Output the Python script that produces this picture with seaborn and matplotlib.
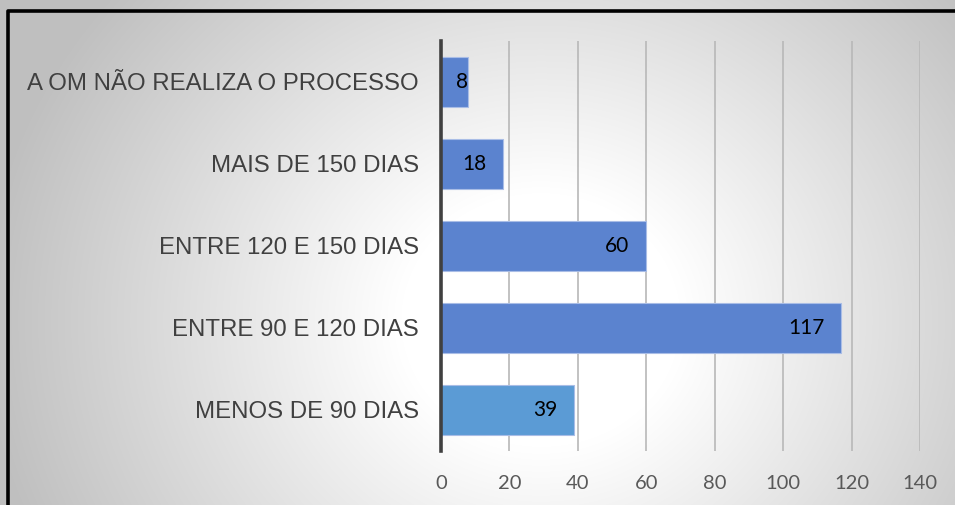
import numpy as np
import pandas as pd
import matplotlib
matplotlib.use("Agg")
import matplotlib.pyplot as plt
import seaborn as sns

categories = [
    "A OM NÃO REALIZA O PROCESSO",
    "MAIS DE 150 DIAS",
    "ENTRE 120 E 150 DIAS",
    "ENTRE 90 E 120 DIAS",
    "MENOS DE 90 DIAS",
]
values = [8, 18, 60, 117, 39]
bar_colors = ["#5B83CF", "#5B83CF", "#5B83CF", "#5B83CF", "#5B9BD5"]
x_ticks = [0, 20, 40, 60, 80, 100, 120, 140]

df = pd.DataFrame({"categoria": categories, "valor": values})

sns.set_theme(style="white")
plt.rcParams["font.family"] = ["Liberation Sans", "DejaVu Sans"]

W, H, DPI = 955, 505, 100
fig = plt.figure(figsize=(W / DPI, H / DPI), dpi=DPI)

# radial background gradient: white in the middle, grey towards the corners
bg = fig.add_axes([0, 0, 1, 1], zorder=-10)
yy, xx = np.mgrid[0:H, 0:W]
d = np.hypot(xx - 540, (yy - 320) * 1.1)
t = np.clip((d - 140) / 420, 0, 1)
shade = 1.0 - 0.25 * t
bg.imshow(np.dstack([shade] * 3), extent=[0, W, H, 0], aspect="auto")
bg.set_xlim(0, W)
bg.set_ylim(H, 0)
bg.axis("off")
# dark frame on the left and top edges
bg.plot([8, 8, W + 5], [H + 5, 11, 11], color="black", lw=2.6, solid_capstyle="butt")

ax = fig.add_axes([441 / W, 54 / H, 479 / W, 410 / H])
ax.set_facecolor("none")

sns.barplot(
    data=df, x="valor", y="categoria", hue="categoria",
    palette=bar_colors, saturation=1, legend=False, orient="h", width=0.6,
    edgecolor="#a9bde6", linewidth=0.8, ax=ax, zorder=3,
)

ax.set_xlim(0, 140)
ax.set_xticks(x_ticks)
ax.set_xlabel("")
ax.set_ylabel("")
ax.grid(axis="x", color="#b8b8b8", lw=1.2, zorder=0)
ax.grid(axis="y", visible=False)
for s in ["top", "right", "bottom"]:
    ax.spines[s].set_visible(False)
ax.spines["left"].set_color("#404040")
ax.spines["left"].set_linewidth(2.6)
ax.spines["left"].set_zorder(5)

ax.tick_params(axis="x", length=0, pad=17, labelsize=14.5, labelcolor="#595959")
ax.tick_params(axis="y", length=0, pad=16, labelsize=17.3, labelcolor="#404040")
for lbl in ax.get_xticklabels():
    lbl.set_fontfamily(["Lato", "DejaVu Sans"])
for lbl in ax.get_yticklabels():
    lbl.set_fontfamily(["Liberation Sans", "DejaVu Sans"])

# value labels inside the end of each bar
px_per_unit = 479 / 140
for i, v in enumerate(values):
    offset = -12 if v * px_per_unit > 50 else 0
    ax.annotate(
        f"{v}", xy=(v, i), xytext=(offset, 0), textcoords="offset points",
        ha="right", va="center", fontsize=15, color="black",
        fontfamily=["Lato", "DejaVu Sans"], zorder=6,
    )

fig.savefig("out.png", dpi=DPI)
